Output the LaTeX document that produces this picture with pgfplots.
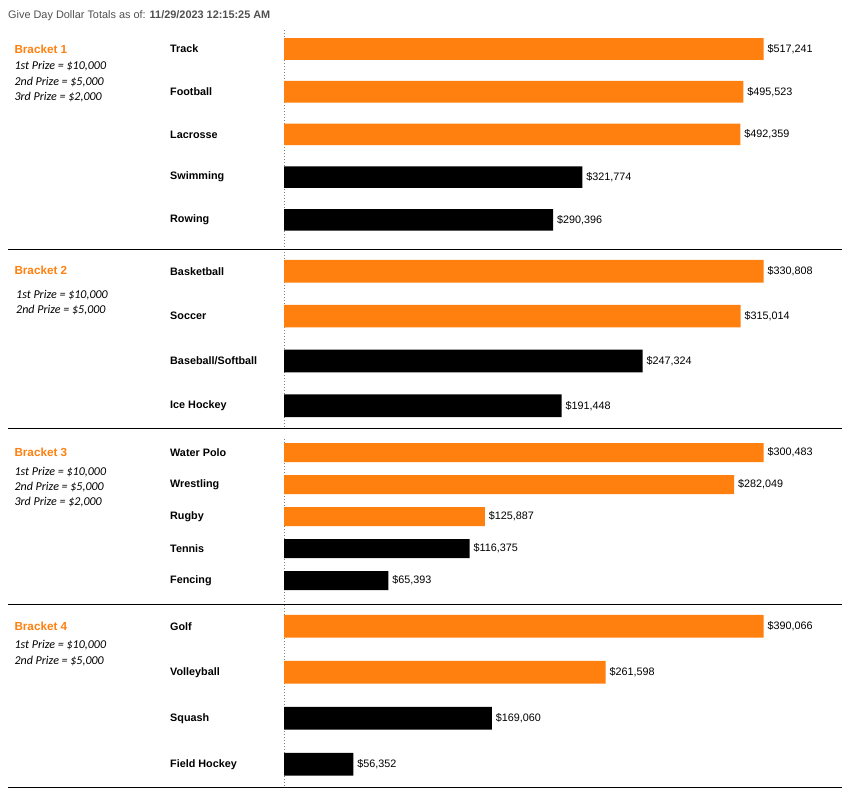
\documentclass[border=0pt]{standalone}
\usepackage{pgfplots}
\pgfplotsset{compat=1.18}
\usepackage{fontspec}
\setmainfont{Liberation Sans}
\newfontfamily\calfont{Carlito}
\definecolor{gorange}{RGB}{255,128,14}
\definecolor{titlegray}{RGB}{80,80,80}

\pgfplotsset{
  panel/.style={
    xbar, bar shift=0pt,
    scale only axis, width=479.5pt,
    xmin=0, y dir=reverse, clip=false,
    enlargelimits=false,
    axis x line=none, axis y line*=left,
    y axis line style={draw=gray, line width=0.8pt, dash pattern=on 1pt off 2pt},
    major tick length=0pt,
    yticklabel style={font=\fontsize{10.8}{13}\selectfont\bfseries, anchor=west, inner sep=0pt, xshift=-114pt},
    point meta=x,
    nodes near coords={\$\pgfmathprintnumber{\pgfplotspointmeta}},
    nodes near coords style={font=\fontsize{10.8}{13}\selectfont, inner sep=3.8pt, text=black},
    /pgf/number format/.cd, fixed, precision=0, 1000 sep={,}, assume math mode=true,
  },
  orb/.style={fill=gorange, draw=none},
  blb/.style={fill=black, draw=none},
}

\begin{document}
\begin{tikzpicture}[x=1pt,y=1pt]
\useasboundingbox (0,0) rectangle (850,-800);

% title
\node[anchor=base west, inner sep=0pt] at (8,-19) {\fontsize{10.9}{13}\selectfont\color{titlegray}Give Day Dollar Totals as of: \textbf{11/29/2023 12:15:25 AM}};

% Bracket 1
\begin{axis}[panel, at={(284pt,-30pt)}, anchor=north west, height=219.3pt,
  ymin=-0.445, ymax=4.691, xmax=517241, bar width=21.6pt,
  ytick={0,1,2,3,4}, yticklabels={Track,Football,Lacrosse,Swimming,Rowing}]
\addplot[orb] coordinates {(517241,0) (495523,1) (492359,2)};
\addplot[blb] coordinates {(321774,3) (290396,4)};
\end{axis}

% Bracket 2
\begin{axis}[panel, at={(284pt,-249.3pt)}, anchor=north west, height=179pt,
  ymin=-0.491, ymax=3.504, xmax=330808, bar width=22.7pt,
  ytick={0,1,2,3}, yticklabels={Basketball,Soccer,Baseball/Softball,Ice Hockey}]
\addplot[orb] coordinates {(330808,0) (315014,1)};
\addplot[blb] coordinates {(247324,2) (191448,3)};
\end{axis}

% Bracket 3
\begin{axis}[panel, at={(284pt,-439pt)}, anchor=north west, height=165.3pt,
  ymin=-0.422, ymax=4.744, xmax=300483, bar width=19pt,
  ytick={0,1,2,3,4}, yticklabels={Water Polo,Wrestling,Rugby,Tennis,Fencing}]
\addplot[orb] coordinates {(300483,0) (282049,1) (125887,2)};
\addplot[blb] coordinates {(116375,3) (65393,4)};
\end{axis}

% Bracket 4
\begin{axis}[panel, at={(284pt,-605pt)}, anchor=north west, height=182.3pt,
  ymin=-0.463, ymax=3.5, xmax=390066, bar width=22.7pt,
  ytick={0,1,2,3}, yticklabels={Golf,Volleyball,Squash,Field Hockey}]
\addplot[orb] coordinates {(390066,0) (261598,1)};
\addplot[blb] coordinates {(169060,2) (56352,3)};
\end{axis}

% separators
\foreach \yy in {249.3,428.3,604.3,787.3} {
  \draw[black, line width=1.3pt] (8,-\yy) -- (842,-\yy);
}

% bracket texts
\tikzset{btitle/.style={anchor=base west, inner sep=0pt, text=gorange, font=\fontsize{11.7}{14}\selectfont\bfseries},
         prize/.style={anchor=base west, inner sep=0pt, font=\calfont\itshape\fontsize{12}{15}\selectfont}}
\node[btitle] at (14.3,-53.2) {Bracket 1};
\node[prize] at (14.3,-70) {1st Prize = \$10,000};
\node[prize] at (14.3,-85) {2nd Prize = \$5,000};
\node[prize] at (14.3,-100) {3rd Prize = \$2,000};

\node[btitle] at (14.3,-274.5) {Bracket 2};
\node[prize] at (16,-298) {1st Prize = \$10,000};
\node[prize] at (16,-313) {2nd Prize = \$5,000};

\node[btitle] at (14.3,-456.5) {Bracket 3};
\node[prize] at (14.3,-475.6) {1st Prize = \$10,000};
\node[prize] at (14.3,-490.6) {2nd Prize = \$5,000};
\node[prize] at (14.3,-505) {3rd Prize = \$2,000};

\node[btitle] at (14.3,-630.7) {Bracket 4};
\node[prize] at (14.3,-648) {1st Prize = \$10,000};
\node[prize] at (14.3,-664) {2nd Prize = \$5,000};
\end{tikzpicture}
\end{document}
